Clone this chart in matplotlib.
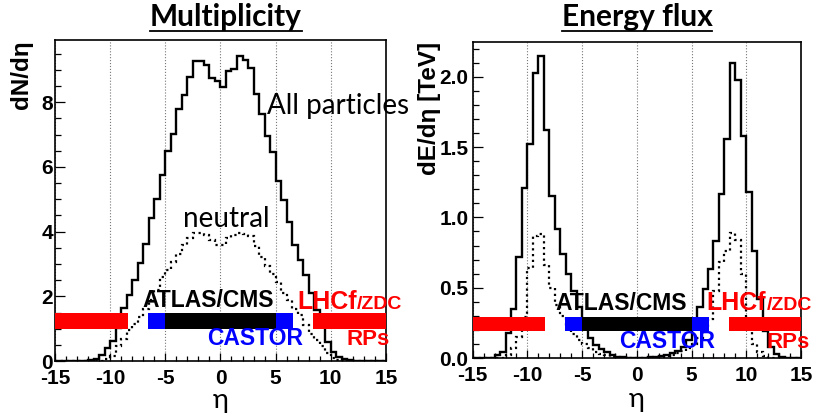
import numpy as np
import matplotlib.pyplot as plt
from matplotlib.lines import Line2D
from matplotlib.ticker import MultipleLocator, FormatStrFormatter

plt.rcParams['font.family'] = ['Liberation Sans', 'DejaVu Sans']
plt.rcParams['font.weight'] = 'bold'
plt.rcParams['axes.unicode_minus'] = False

# bins of 0.5 in eta, from -15 to 15
eta_edges = np.arange(-15, 15.01, 0.5)

# multiplicity dN/deta
mult_all = [0, 0, 0, 0, 0, 0, 0.02, 0.06, 0.18, 0.40,
            0.62, 1.02, 1.63, 2.04, 2.50, 3.02, 3.62, 4.43, 5.00, 5.74,
            6.48, 7.03, 7.78, 8.23, 8.78, 9.26, 9.28, 9.16, 8.74, 8.64,
            8.47, 8.95, 9.03, 9.42, 9.29, 9.05, 8.26, 7.64, 6.95, 6.46,
            5.56, 4.97, 4.30, 3.58, 3.12, 2.65, 2.09, 1.57, 1.11, 0.60,
            0.29, 0.13, 0.06, 0.02, 0, 0, 0, 0, 0, 0]
mult_neutral = [0, 0, 0, 0, 0, 0, 0, 0, 0, 0.05,
                0.15, 0.45, 0.68, 0.95, 1.15, 1.35, 1.60, 1.90, 2.20, 2.60,
                2.82, 3.05, 3.32, 3.60, 3.80, 3.97, 3.97, 3.90, 3.75, 3.58,
                3.60, 3.80, 3.90, 3.96, 3.92, 3.85, 3.55, 3.22, 2.95, 2.70,
                2.45, 2.10, 1.88, 1.60, 1.42, 1.10, 0.85, 0.65, 0.45, 0.25,
                0.08, 0.02, 0, 0, 0, 0, 0, 0, 0, 0]

# energy flux dE/deta [TeV]
eflux_all = [0, 0, 0, 0, 0.02, 0.045, 0.18, 0.35, 0.72, 1.21,
             1.52, 2.03, 2.15, 1.62, 1.15, 0.92, 0.74, 0.60, 0.48, 0.36,
             0.22, 0.14, 0.093, 0.063, 0.04, 0.02, 0.01, 0.005, 0.003, 0.003,
             0.003, 0.003, 0.005, 0.01, 0.015, 0.02, 0.035, 0.05, 0.08, 0.13,
             0.22, 0.36, 0.49, 0.63, 0.83, 1.17, 1.56, 2.10, 1.98, 1.58,
             1.18, 0.76, 0.42, 0.19, 0.08, 0.03, 0.01, 0, 0, 0]
eflux_neutral = [0, 0, 0, 0, 0, 0, 0.02, 0.07, 0.15, 0.29,
                 0.64, 0.87, 0.88, 0.66, 0.50, 0.38, 0.30, 0.23, 0.17, 0.13,
                 0.10, 0.07, 0.045, 0.03, 0.02, 0.01, 0.005, 0.002, 0.002, 0.002,
                 0.002, 0.002, 0.002, 0.005, 0.008, 0.012, 0.02, 0.035, 0.05, 0.07,
                 0.10, 0.14, 0.20, 0.28, 0.48, 0.68, 0.76, 0.89, 0.84, 0.60,
                 0.22, 0.10, 0.04, 0.015, 0, 0, 0, 0, 0, 0]

# detector coverage in eta
det_lo = [-15, -6.6, -5, 5, 8.4]
det_hi = [-8.4, -5, 5, 6.6, 15]
det_colors = ['#ff0000', '#0000ff', '#000000', '#0000ff', '#ff0000']

fig = plt.figure(figsize=(8.24, 4.15), dpi=100)
ax1 = fig.add_axes([0.0667, 0.130, 0.4017, 0.7735])
ax2 = fig.add_axes([0.5737, 0.1373, 0.3984, 0.7622])


def draw_panel(ax, h_all, h_neu, ymax, band, ymajor, yminor, yfmt):
    ax.stairs(h_all, eta_edges, color='black', lw=1.7, zorder=2)
    ax.stairs(h_neu, eta_edges, color='black', lw=1.6, ls=(0, (1, 1.6)), zorder=2)
    widths = [h - l for l, h in zip(det_lo, det_hi)]
    ax.barh((band[0] + band[1]) / 2, widths, left=det_lo, height=band[1] - band[0],
            color=det_colors, zorder=3)
    ax.set_xlim(-15, 15)
    ax.set_ylim(0, ymax)
    ax.xaxis.set_major_locator(MultipleLocator(5))
    ax.xaxis.set_minor_locator(MultipleLocator(1))
    ax.yaxis.set_major_locator(MultipleLocator(ymajor))
    ax.yaxis.set_minor_locator(MultipleLocator(yminor))
    ax.xaxis.set_major_formatter(FormatStrFormatter('%d'))
    ax.yaxis.set_major_formatter(FormatStrFormatter(yfmt))
    ax.grid(axis='x', which='major', ls=':', color='#777777', lw=0.8, zorder=1)
    ax.tick_params(which='both', direction='in', top=False, right=False,
                   labelsize=15, width=0.9)
    ax.tick_params(axis='x', which='major', length=6, pad=6)
    ax.tick_params(axis='x', which='minor', length=3.5)
    ax.tick_params(axis='y', which='major', length=7.5, pad=1.5)
    ax.tick_params(axis='y', which='minor', length=4)
    for s in ax.spines.values():
        s.set_linewidth(1.2)


draw_panel(ax1, mult_all, mult_neutral, 9.92, (1.0, 1.5), 2, 0.5, '%d')
draw_panel(ax2, eflux_all, eflux_neutral, 2.25, (0.19, 0.29), 0.5, 0.1, '%.1f')
ax2.tick_params(axis='y', which='major', pad=3)

# eta axis titles
ax1.text(0.5, -0.147, 'η', transform=ax1.transAxes, ha='center', va='baseline',
         fontsize=19.5, fontweight='normal', family='Lato')
ax2.text(0.5, -0.156, 'η', transform=ax2.transAxes, ha='center', va='baseline',
         fontsize=19.5, fontweight='normal', family='Lato')

ax1.text(-0.1, 1.0, 'dN/dη', transform=ax1.transAxes, rotation=90,
         ha='center', va='top', fontsize=17.5)
ax2.text(-0.133, 1.0, 'dE/dη [TeV]', transform=ax2.transAxes, rotation=90,
         ha='center', va='top', fontsize=17.5)

# curve labels
ax1.text(4.19, 7.64, 'All particles', fontsize=20, fontweight='normal',
         family='Lato', va='baseline', zorder=5)
ax1.text(-3.37, 4.15, 'neutral', fontsize=20, fontweight='normal',
         family='Lato', va='baseline', zorder=5)

# detector labels
lhcf_texts = []
for ax, xa, ya, xl, yl, xc, yc, xr in [
        (ax1, -1.13, 1.66, 6.94, 1.60, -1.25, 0.49, 11.45),
        (ax2, -1.46, 0.342, 6.39, 0.342, -1.6, 0.069, 11.87)]:
    ax.text(xa, ya, 'ATLAS/CMS', fontsize=16.5, color='black', ha='center',
            va='baseline', zorder=5)
    t = ax.text(xl, yl, 'LHCf', fontsize=18, color='#ff0000', va='baseline', zorder=5)
    lhcf_texts.append((ax, t, yl))
    ax.text(xc, yc, 'CASTOR', fontsize=16.5, color='#0000ff', va='baseline', zorder=5)
    ax.text(xr, yc, 'RPs', fontsize=16, color='#ff0000', va='baseline', zorder=5)

t1 = fig.text(226 / 824, 1 - 17 / 415, 'Multiplicity', ha='center', va='center',
              fontsize=21.5, family='Lato')
t2 = fig.text(637 / 824, 1 - 17 / 415, 'Energy flux', ha='center', va='center',
              fontsize=21.5, family='Lato')

fig.canvas.draw()
r = fig.canvas.get_renderer()

# smaller "/ZDC" right after "LHCf", same baseline
for ax, t, yl in lhcf_texts:
    bb = t.get_window_extent(r).transformed(ax.transData.inverted())
    ax.text(bb.x1, yl, '/ZDC', fontsize=14, color='#ff0000', va='baseline',
            zorder=5, clip_on=False)

uy = 1 - 30.7 / 415
for t in (t1, t2):
    bb = t.get_window_extent(r).transformed(fig.transFigure.inverted())
    fig.add_artist(Line2D([bb.x0, bb.x1], [uy, uy], color='black', lw=1.3,
                          transform=fig.transFigure))

fig.savefig('out.png', dpi=100)
